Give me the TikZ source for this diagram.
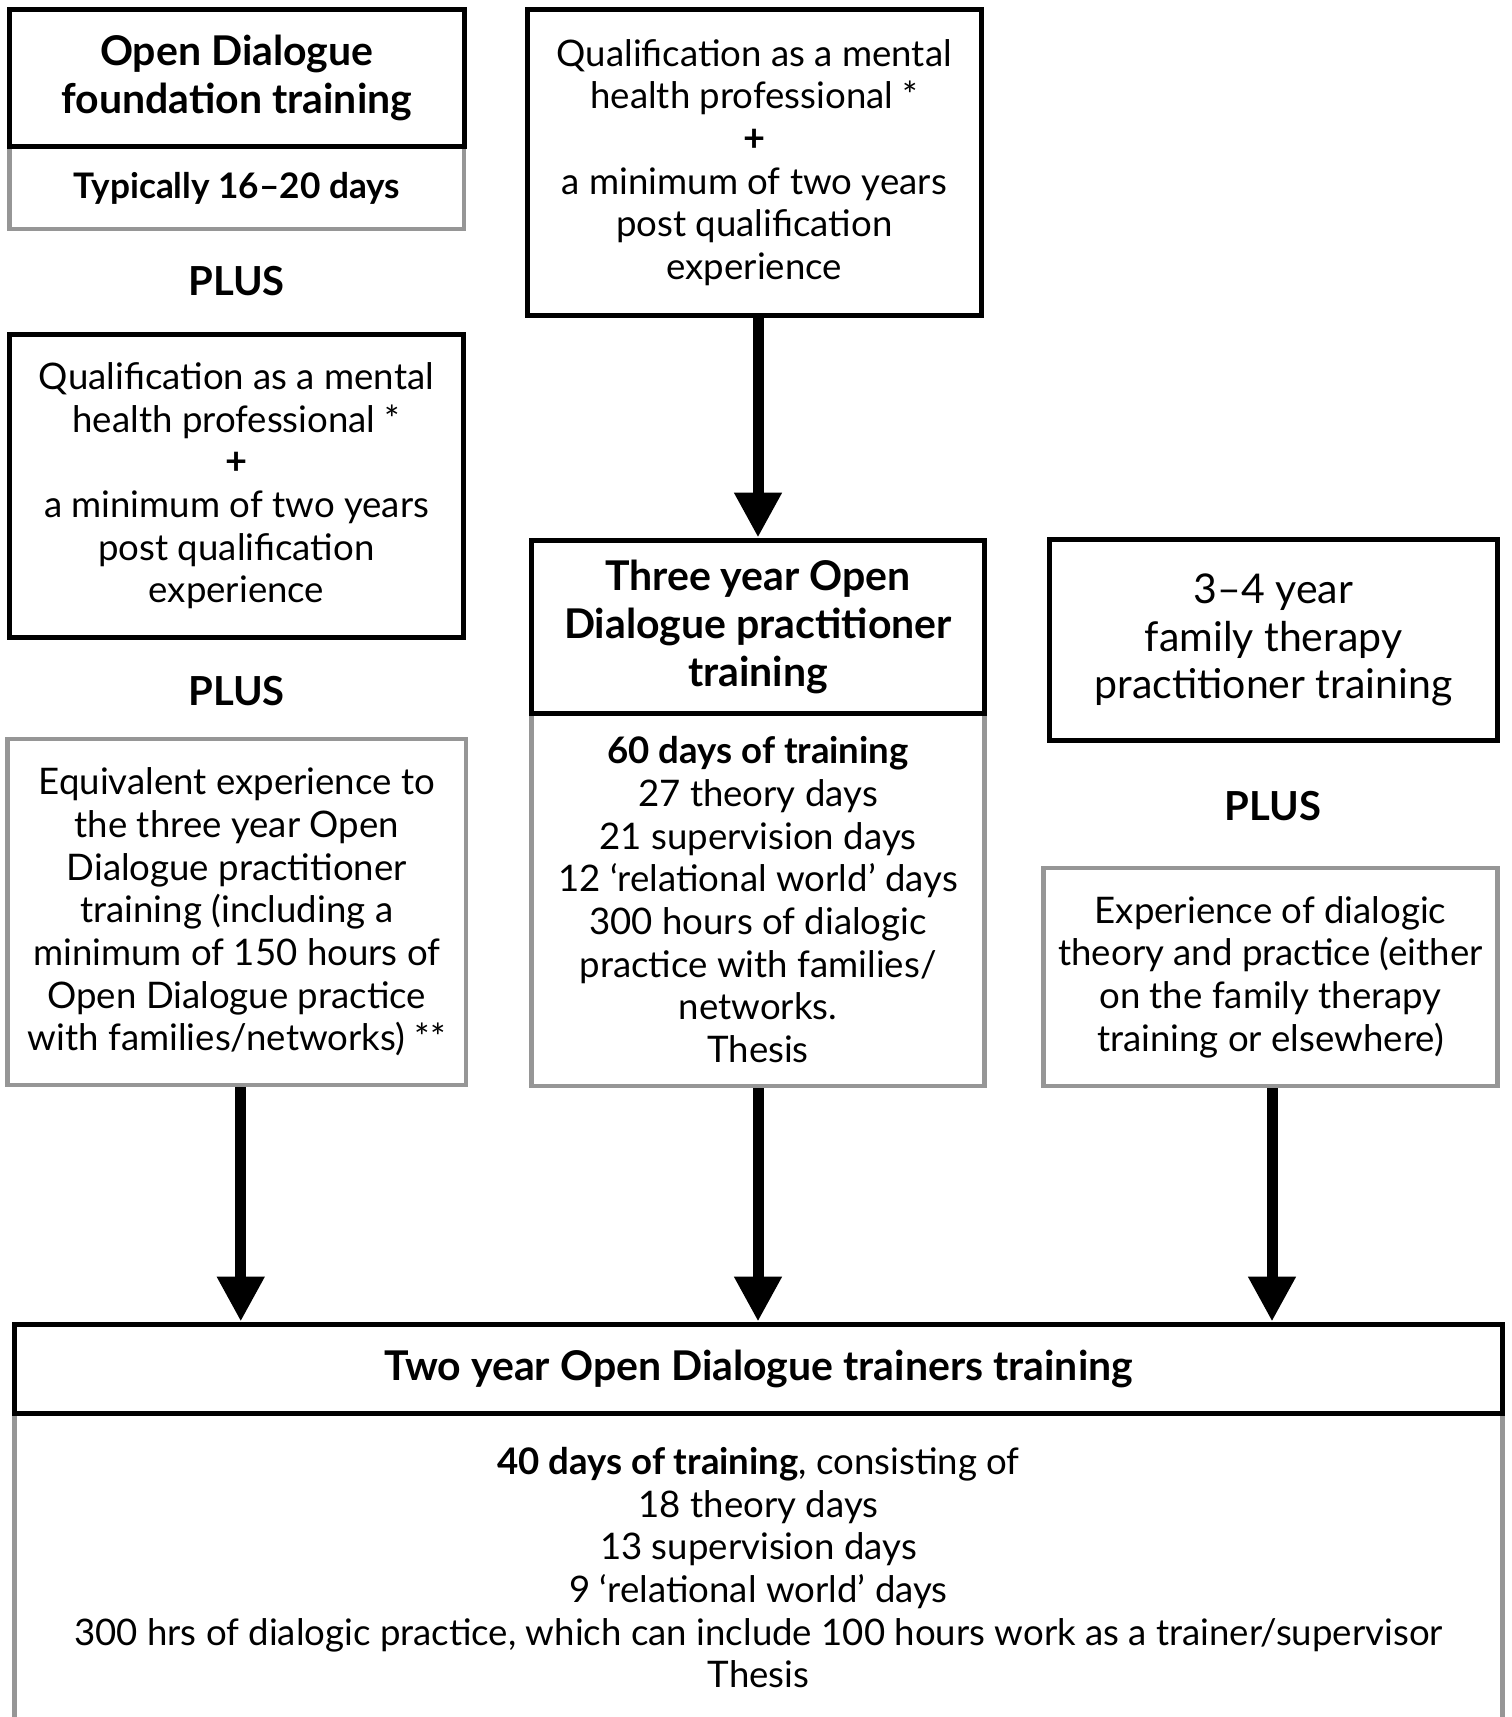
\documentclass[tikz,border=0pt]{standalone}
\usepackage{fontspec}
\setmainfont{Lato}
\usetikzlibrary{arrows.meta}
\definecolor{boxgrey}{RGB}{150,150,150}
\begin{document}
\begin{tikzpicture}[x=1pt,y=-1pt,
  blackbox/.style={draw=black,line width=5pt,fill=white,inner sep=0pt,align=center,
    font=\fontsize{36.6}{42.7}\selectfont},
  greybox/.style={draw=boxgrey,line width=4.5pt,fill=white,inner sep=0pt,align=center,
    font=\fontsize{36.6}{42.7}\selectfont},
  headtext/.style={font=\fontsize{41}{48}\selectfont\bfseries},
  bigtext/.style={font=\fontsize{41}{47.6}\selectfont},
  plustext/.style={font=\fontsize{40}{44}\selectfont\bfseries,inner sep=0pt},
  flowarrow/.style={line width=11pt,-{Triangle[width=45pt,length=45pt]}},
]
\useasboundingbox (0,0) rectangle (1512,1717);
\clip (0,0) rectangle (1512,1717);
\newcommand{\pl}{{\fontsize{38}{42.7}\selectfont\bfseries +}}
% grey bodies first
\node[greybox,minimum width=454.5pt,minimum height=82pt,font=\fontsize{35.2}{42.7}\selectfont\bfseries] (Ab) at (236.75,188) {Typically 16–20 days};
\node[greybox,minimum width=458.5pt,minimum height=346pt] (C) at (236.75,912) {Equivalent experience to\\the three year Open\\Dialogue practitioner\\training (including a\\minimum of 150 hours of\\Open Dialogue practice\\with families/networks) **};
\node[greybox,minimum width=453pt,minimum height=372.5pt] (Eb) at (758,899.75) {\textbf{60 days of training}\\27 theory days\\21 supervision days\\12 ‘relational world’ days\\300 hours of dialogic\\practice with families/\\networks.\\Thesis};
\node[greybox,minimum width=454pt,minimum height=218pt] (G) at (1270.5,977) {Experience of dialogic\\theory and practice (either\\on the family therapy\\training or elsewhere)};
\node[greybox,minimum width=1488pt,minimum height=308.5pt] (Hb) at (758.5,1567.75) {\textbf{40 days of training}, consisting of\\18 theory days\\13 supervision days\\9 ‘relational world’ days\\300 hrs of dialogic practice, which can include 100 hours work as a trainer/supervisor\\Thesis};
% black boxes
\node[blackbox,headtext,minimum width=454.5pt,minimum height=136.5pt] (A) at (236.75,77.75) {Open Dialogue\\foundation training};
\node[blackbox,minimum width=454pt,minimum height=302.5pt] (B) at (236.5,485.75) {Qualification as a mental\\health professional *\\\pl\\a minimum of two years\\post qualification\\experience};
\node[blackbox,minimum width=453.5pt,minimum height=306pt] (D) at (754.25,162.5) {Qualification as a mental\\health professional *\\\pl\\a minimum of two years\\post qualification\\experience};
\node[blackbox,headtext,minimum width=453pt,minimum height=173.5pt] (E) at (758,626.75) {Three year Open\\Dialogue practitioner\\training};
\node[blackbox,bigtext,minimum width=448pt,minimum height=201pt] (F) at (1273.5,640) {3–4 year\\family therapy\\practitioner training};
\node[blackbox,headtext,minimum width=1488pt,minimum height=89.5pt] (H) at (758.5,1368.75) {Two year Open Dialogue trainers training};
% PLUS labels
\node[plustext] (P1) at (236.5,281) {PLUS};
\node[plustext] (P2) at (236.5,691) {PLUS};
\node[plustext] (P3) at (1273,806) {PLUS};
% arrows
\draw[flowarrow] (E.north |- D.south) -- (E.north);
\draw[flowarrow] ([xshift=4pt]C.south) -- ([xshift=4pt]C.south |- H.north);
\draw[flowarrow] (Eb.south) -- (Eb.south |- H.north);
\draw[flowarrow] ([xshift=1.5pt]G.south) -- ([xshift=1.5pt]G.south |- H.north);
\end{tikzpicture}
\end{document}
